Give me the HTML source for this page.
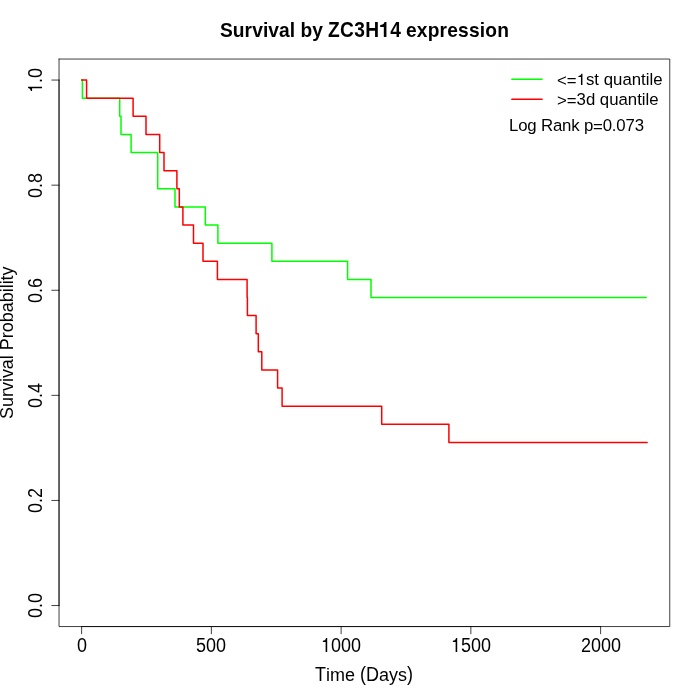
<!DOCTYPE html>
<html><head><meta charset="utf-8"><title>Survival by ZC3H14 expression</title>
<style>
html,body{margin:0;padding:0;background:#fff;}
body{width:700px;height:700px;overflow:hidden;font-family:"Liberation Sans",sans-serif;}
svg{display:block;}
</style></head><body>
<svg width="700" height="700" viewBox="0 0 700 700">
<rect width="700" height="700" fill="#fff"/>
<g fill="none" stroke-linecap="round" stroke-linejoin="round">
<path d="M81.62 80.06 L82.40 80.06 L82.40 98.18 L119.70 98.18 L119.70 116.30 L121.00 116.30 L121.00 134.42 L131.10 134.42 L131.10 152.54 L157.70 152.54 L157.70 188.78 L175.00 188.78 L175.00 206.90 L205.30 206.90 L205.30 225.02 L217.90 225.02 L217.90 243.14 L271.90 243.14 L271.90 261.26 L347.60 261.26 L347.60 279.38 L371.00 279.38 L371.00 297.50 L646.20 297.50" stroke="#00ff00" stroke-width="1.5"/>
<path d="M81.62 80.06 L86.60 80.06 L86.60 98.18 L133.10 98.18 L133.10 116.30 L146.00 116.30 L146.00 134.42 L159.70 134.42 L159.70 152.54 L164.00 152.54 L164.00 170.66 L176.90 170.66 L176.90 188.78 L179.30 188.78 L179.30 206.90 L182.90 206.90 L182.90 225.02 L193.50 225.02 L193.50 243.14 L203.00 243.14 L203.00 261.26 L217.40 261.26 L217.40 279.38 L247.10 279.38 L247.10 297.50 L247.40 297.50 L247.40 315.62 L256.10 315.62 L256.10 333.74 L258.30 333.74 L258.30 351.86 L261.80 351.86 L261.80 369.98 L277.60 369.98 L277.60 388.10 L282.10 388.10 L282.10 406.22 L381.70 406.22 L381.70 424.34 L448.90 424.34 L448.90 442.46 L647.14 442.46" stroke="#ff0000" stroke-width="1.5"/>
</g>
<g fill="none" stroke="#000" stroke-width="0.75" stroke-linecap="round" stroke-linejoin="round">
<path d="M81.62 626.56 L600.62 626.56"/>
<path d="M81.62 626.56 L81.62 633.76"/>
<path d="M211.37 626.56 L211.37 633.76"/>
<path d="M341.12 626.56 L341.12 633.76"/>
<path d="M470.87 626.56 L470.87 633.76"/>
<path d="M600.62 626.56 L600.62 633.76"/>
<path d="M59.04 605.54 L59.04 80.06"/>
<path d="M59.04 605.54 L51.84 605.54"/>
<path d="M59.04 500.44 L51.84 500.44"/>
<path d="M59.04 395.35 L51.84 395.35"/>
<path d="M59.04 290.25 L51.84 290.25"/>
<path d="M59.04 185.16 L51.84 185.16"/>
<path d="M59.04 80.06 L51.84 80.06"/>
<path d="M59.04 59.04 H669.76 V626.56 H59.04 V59.04"/>
</g>
<g fill="none" stroke-linecap="round" stroke-width="1.5">
<path d="M511.84 79.2 L542.08 79.2" stroke="#00ff00"/>
<path d="M511.84 99.36 L542.08 99.36" stroke="#ff0000"/>
</g>
<g font-family="'Liberation Sans', sans-serif" fill="#000" opacity="0.999">
<text transform="translate(220.00 37.00) scale(1 1.070)" font-size="19.2" text-anchor="start" font-weight="bold" x="0.00" textLength="103.00" lengthAdjust="spacing">Survival by</text>
<text transform="translate(328.00 37.00) scale(1 1.135)" font-size="19.2" text-anchor="start" font-weight="bold" x="0.00" textLength="73.00" lengthAdjust="spacing">ZC3H<tspan class="h1" visibility="hidden">1</tspan>4</text>
<text transform="translate(406.00 37.00) scale(1 1.050)" font-size="19.2" text-anchor="start" font-weight="bold" x="0.00" textLength="103.00" lengthAdjust="spacing">expression</text>
<text transform="translate(315.00 681.00) scale(1 1.110)" font-size="18" text-anchor="start">T</text>
<text transform="translate(326.00 681.00) scale(1 1.050)" font-size="18" text-anchor="start" x="0.00" textLength="29.00" lengthAdjust="spacing">ime</text>
<text transform="translate(360.00 681.00) scale(1 1.130)" font-size="18" text-anchor="start" x="0.00" textLength="19.00" lengthAdjust="spacing">(D</text>
<text transform="translate(379.00 681.00) scale(1 1.050)" font-size="18" text-anchor="start" x="0.00" textLength="28.00" lengthAdjust="spacing">ays</text>
<text transform="translate(407.00 681.00) scale(1 1.130)" font-size="18" text-anchor="start">)</text>
<text transform="translate(13.00 419.00) rotate(-90) scale(1 1.060)" font-size="18" text-anchor="start" x="0.00" textLength="152.60" lengthAdjust="spacing">Survival Probability</text>
<text transform="translate(77.00 652.00) scale(1 1.130)" font-size="18" text-anchor="start">0</text>
<text transform="translate(196.00 652.00) scale(1 1.130)" font-size="18" text-anchor="start" x="0.00" textLength="30.00" lengthAdjust="spacing">500</text>
<text transform="translate(321.00 652.00) scale(1 1.130)" font-size="18" text-anchor="start" x="0.00" textLength="40.00" lengthAdjust="spacing"><tspan class="h1" visibility="hidden">1</tspan>000</text>
<text transform="translate(451.00 652.00) scale(1 1.130)" font-size="18" text-anchor="start" x="0.00" textLength="40.00" lengthAdjust="spacing"><tspan class="h1" visibility="hidden">1</tspan>500</text>
<text transform="translate(581.00 652.00) scale(1 1.130)" font-size="18" text-anchor="start" x="0.00" textLength="40.00" lengthAdjust="spacing">2000</text>
<text transform="translate(42.00 618.00) rotate(-90) scale(1 1.130)" font-size="18" text-anchor="start" x="0.00" textLength="25.00" lengthAdjust="spacing">0.0</text>
<text transform="translate(42.00 513.00) rotate(-90) scale(1 1.130)" font-size="18" text-anchor="start" x="0.00" textLength="25.00" lengthAdjust="spacing">0.2</text>
<text transform="translate(42.00 408.00) rotate(-90) scale(1 1.130)" font-size="18" text-anchor="start" x="0.00" textLength="25.00" lengthAdjust="spacing">0.4</text>
<text transform="translate(42.00 303.00) rotate(-90) scale(1 1.130)" font-size="18" text-anchor="start" x="0.00" textLength="25.00" lengthAdjust="spacing">0.6</text>
<text transform="translate(42.00 198.00) rotate(-90) scale(1 1.130)" font-size="18" text-anchor="start" x="0.00" textLength="25.00" lengthAdjust="spacing">0.8</text>
<text transform="translate(42.00 93.00) rotate(-90) scale(1 1.130)" font-size="18" text-anchor="start" x="0.00" textLength="25.00" lengthAdjust="spacing"><tspan class="h1" visibility="hidden">1</tspan>.0</text>
<text transform="translate(557.00 85.00) scale(1 0.980)" font-size="16.8" text-anchor="start" x="0.00" textLength="105.60" lengthAdjust="spacing"><tspan dy="1.5">&lt;=</tspan><tspan dy="-1.5"><tspan class="h1" visibility="hidden">1</tspan>st quantile</tspan></text>
<text transform="translate(557.00 104.90) scale(1 0.970)" font-size="16.8" text-anchor="start" x="0.00" textLength="101.60" lengthAdjust="spacing"><tspan dy="1.6">&gt;=</tspan><tspan dy="-1.6">3d quantile</tspan></text>
<text transform="translate(509.00 131.00) scale(1 1.020)" font-size="16.8" text-anchor="start" x="0.00" textLength="135.00" lengthAdjust="spacing">Log Rank p<tspan dy="1.0">=</tspan><tspan dy="-1.0">0.073</tspan></text>
<path transform="translate(328.00 37.00) scale(1 1.135)" d="M58.43 0.00L55.82 0.00L55.82 -8.72L52.19 -8.72L52.19 -10.50C54.32 -10.55 55.89 -11.13 56.51 -13.15L58.43 -13.15Z"/>
<path transform="translate(321.00 652.00) scale(1 1.130)" d="M6.21 0.00L4.63 0.00L4.63 -8.78L1.89 -8.78L1.89 -9.88C3.42 -9.95 4.50 -10.43 5.11 -12.33L6.21 -12.33Z"/>
<path transform="translate(451.00 652.00) scale(1 1.130)" d="M6.21 0.00L4.63 0.00L4.63 -8.78L1.89 -8.78L1.89 -9.88C3.42 -9.95 4.50 -10.43 5.11 -12.33L6.21 -12.33Z"/>
<path transform="translate(42.00 93.00) rotate(-90) scale(1 1.130)" d="M6.21 0.00L4.63 0.00L4.63 -8.78L1.89 -8.78L1.89 -9.88C3.42 -9.95 4.50 -10.43 5.11 -12.33L6.21 -12.33Z"/>
<path transform="translate(557.00 85.00) scale(1 0.980)" d="M25.43 0.00L23.95 0.00L23.95 -8.20L21.40 -8.20L21.40 -9.22C22.83 -9.28 23.84 -9.74 24.41 -11.51L25.43 -11.51Z"/>
</g>
</svg>
</body></html>
